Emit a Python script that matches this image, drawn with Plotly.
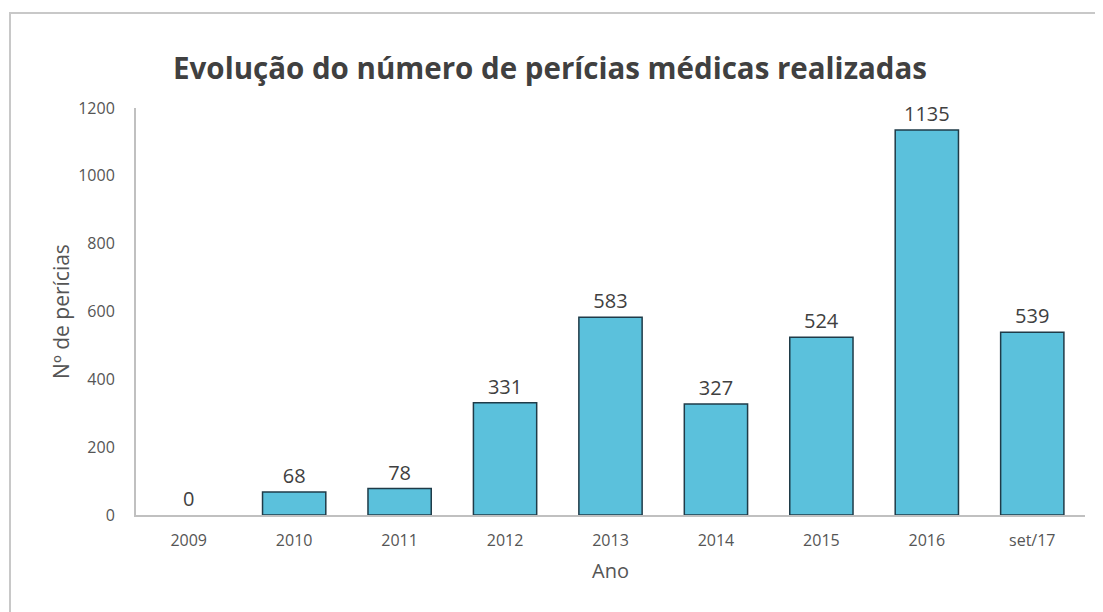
import plotly.graph_objects as go

anos = ['2009', '2010', '2011', '2012', '2013', '2014', '2015', '2016', 'set/17']
pericias = [0, 68, 78, 331, 583, 327, 524, 1135, 539]
y_ticks = [0, 200, 400, 600, 800, 1000, 1200]

# no outline on empty bars (2009 has 0)
contorno = [1.5 if v > 0 else 0 for v in pericias]

fig = go.Figure()
fig.add_trace(go.Bar(
    x=anos, y=pericias,
    marker=dict(color='#5bc1dc', line=dict(color='#1f3b48', width=contorno)),
    text=pericias, textposition='outside', cliponaxis=False,
    textfont=dict(size=20, color='#404040', family='Open Sans'),
))

# the page adds an 8px body margin, so the figure is drawn slightly smaller
fig.update_layout(
    width=1095, height=604,
    paper_bgcolor='white', plot_bgcolor='white',
    margin=dict(l=128, r=18, t=100, b=97),
    bargap=0.4,
    showlegend=False,
    font=dict(family='Open Sans', color='#404040'),
    title=dict(text='<b>Evolução do número de perícias médicas realizadas</b>',
               x=0.495, xanchor='center', y=0.9, yanchor='middle',
               font=dict(size=29.5, color='#404040')),
    xaxis=dict(showline=True, linecolor='#c0c0c0', linewidth=2, ticks='',
               ticklabelstandoff=10,
               tickfont=dict(size=16, color='#555555'),
               title=dict(text='Ano', font=dict(size=20, color='#555555'), standoff=14)),
    yaxis=dict(range=[0, 1200], tickvals=y_ticks, showgrid=False, zeroline=False,
               showline=True, linecolor='#c0c0c0', linewidth=2, ticks='',
               ticklabelstandoff=16,
               tickfont=dict(size=16, color='#555555'),
               title=dict(text='Nº de perícias', font=dict(size=21, color='#555555'), standoff=3)),
    shapes=[dict(type='rect', xref='paper', yref='paper',
                 x0=-(126 / 949), x1=1.05, y0=-0.3, y1=1 + 95 / 407,
                 line=dict(color='#c8c8c8', width=2), layer='below')],
)

fig.write_html("out.html")
